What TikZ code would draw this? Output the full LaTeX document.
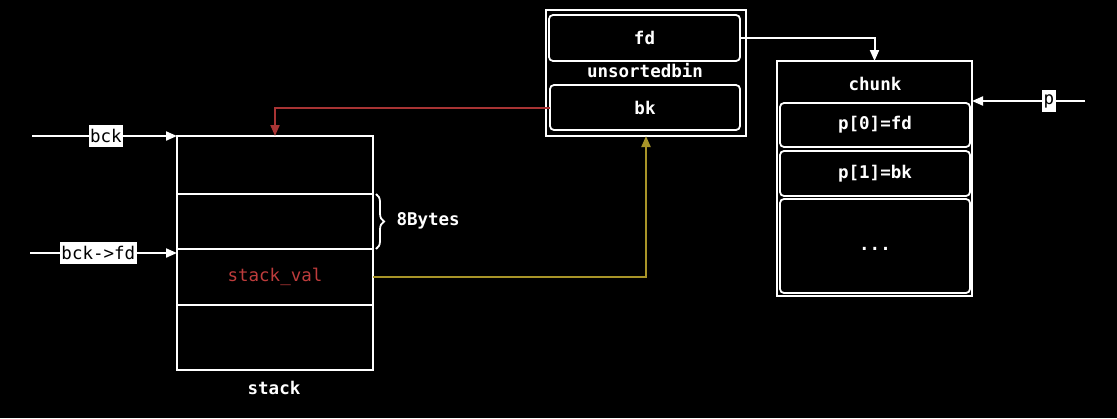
\documentclass[tikz,border=0pt]{standalone}
\usepackage{fontspec}
\setmonofont{DejaVu Sans Mono}
\usetikzlibrary{arrows.meta,decorations.pathreplacing}
\definecolor{redline}{RGB}{168,52,52}
\definecolor{redtext}{RGB}{190,60,60}
\definecolor{oliveline}{RGB}{168,148,40}
\begin{document}
\begin{tikzpicture}[x=1pt,y=-1pt,
  cell/.style={draw=white,line width=1.8pt,inner sep=0pt,outer sep=0pt,rectangle},
  rcell/.style={cell,rounded corners=4pt},
  lbl/.style={text=white,font=\ttfamily\bfseries\fontsize{17.5}{20}\selectfont},
  tag/.style={fill=white,text=black,inner xsep=1.5pt,inner ysep=4.5pt,font=\ttfamily\fontsize{17.5}{19}\selectfont},
  arr/.style={draw=white,line width=2pt,-{Triangle[length=11pt,width=9pt]}},
]
\fill[black] (0,0) rectangle (1117,418);
% stack
\node[cell,minimum width=196pt,minimum height=58pt] (s1) at (275,165) {};
\node[cell,minimum width=196pt,minimum height=55pt] (s2) at (275,221.5) {};
\node[cell,minimum width=196pt,minimum height=56pt,lbl,text=redtext,font=\ttfamily\fontsize{17.5}{20}\selectfont] (s3) at (275,277) {stack\_val};
\node[cell,minimum width=196pt,minimum height=65pt] (s4) at (275,337.5) {};
\node[lbl] (stk) at (274,388) {stack};
\draw[white,line width=1.8pt,decorate,decoration={brace,amplitude=8pt}] (376,194) -- (376,249);
\node[lbl,anchor=west] (bytes) at (393,221) {8Bytes};
% unsortedbin
\node[cell,minimum width=200pt,minimum height=126pt] (ub) at (646,73) {};
\node[rcell,minimum width=191pt,minimum height=46pt,lbl] (fd) at (644.5,38) {fd};
\node[lbl] (ubt) at (645,71) {unsortedbin};
\node[rcell,minimum width=190pt,minimum height=45pt,lbl] (bk) at (645,107.5) {bk};
% chunk
\node[cell,minimum width=195pt,minimum height=235pt] (chunk) at (874.5,178.5) {};
\node[lbl] (ct) at (875,84) {chunk};
\node[rcell,minimum width=190pt,minimum height=44pt,lbl] (p0) at (875,125) {p[0]=fd};
\node[rcell,minimum width=190pt,minimum height=45pt,lbl] (p1) at (875,173.5) {p[1]=bk};
\node[rcell,minimum width=190pt,minimum height=94pt,lbl] (dots) at (875,246) {\raisebox{-9pt}{...}};
% connectors
\draw[arr] (fd.east) -| (chunk.north);
\draw[arr,draw=redline] (bk.west) -| (s1.north);
\draw[arr,draw=oliveline] (s3.east) -| (ub.south);
\coordinate (bcks) at (32,136);
\coordinate (bfds) at (30,253);
\coordinate (ps) at (1085,101);
\draw[arr] (bcks) -- (s1.north west) node[tag,pos=0.51] {bck};
\draw[arr] (bfds) -- (bfds -| s3.west) node[tag,pos=0.465] {bck->fd};
\draw[arr] (ps) -- (ps -| chunk.east) node[tag,pos=0.32] {p};
\end{tikzpicture}
\end{document}
